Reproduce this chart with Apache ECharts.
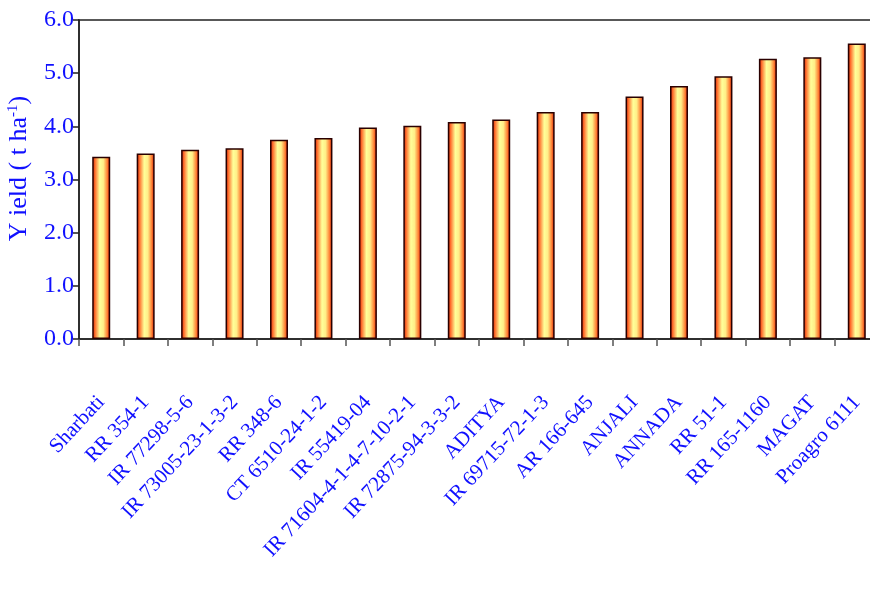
<!DOCTYPE html>
<html>
<head>
<meta charset="utf-8">
<script src="https://cdn.jsdelivr.net/npm/echarts@6/dist/echarts.min.js"></script>
<style>html,body{margin:0;padding:0;background:#fff}#c{width:870px;height:601px}</style>
</head>
<body>
<div id="c"></div>
<script>
const categories = ["Sharbati", "RR 354-1", "IR 77298-5-6", "IR 73005-23-1-3-2", "RR 348-6", "CT 6510-24-1-2", "IR 55419-04", "IR 71604-4-1-4-7-10-2-1", "IR 72875-94-3-3-2", "ADITYA", "IR 69715-72-1-3", "AR 166-645", "ANJALI", "ANNADA", "RR 51-1", "RR 165-1160", "MAGAT", "Proagro 6111"];
const yieldValues = [3.43, 3.49, 3.56, 3.59, 3.75, 3.78, 3.98, 4.01, 4.08, 4.13, 4.27, 4.27, 4.56, 4.76, 4.94, 5.27, 5.30, 5.56];
const yTicks = { min: 0, max: 6, interval: 1 };

const blue = '#1010ff';
const font = '"Liberation Serif", "Times New Roman", serif';
const chart = echarts.init(document.getElementById('c'), null, { renderer: 'canvas' });
chart.setOption({
  animation: false,
  backgroundColor: '#fff',
  grid: { left: 79, top: 20, width: 800, height: 319, outerBoundsMode: 'none', containLabel: false, show: true, borderColor: '#222', borderWidth: 1.5 },
  xAxis: {
    type: 'category',
    data: categories,
    axisLine: { lineStyle: { color: '#222', width: 1.5 } },
    axisTick: { show: true, length: 7, lineStyle: { color: '#555', width: 1.5 } },
    axisLabel: { interval: 0, rotate: 47, margin: 60, fontSize: 21, fontFamily: font, color: blue, hideOverlap: false }
  },
  yAxis: {
    type: 'value',
    min: yTicks.min, max: yTicks.max, interval: yTicks.interval,
    splitLine: { show: false },
    axisLine: { show: true, lineStyle: { color: '#222', width: 1.5 } },
    axisTick: { show: true, length: 6, lineStyle: { color: '#222', width: 1.5 } },
    axisLabel: { fontSize: 24, fontFamily: font, color: blue, margin: 5, formatter: v => v.toFixed(1) },
    name: '{t|Y ield ( t ha}{s|-1}{t|)}',
    nameLocation: 'middle',
    nameRotate: 90,
    nameGap: 46,
    nameTextStyle: {
      padding: [0, 0, 0, 22],
      rich: {
        t: { fontSize: 26, fontFamily: font, color: blue },
        s: { fontSize: 15, fontFamily: font, color: blue, verticalAlign: 'top', padding: [0, 0, 12, 0] }
      }
    }
  },
  series: [{
    type: 'bar',
    data: yieldValues,
    barWidth: 18,
    itemStyle: {
      color: new echarts.graphic.LinearGradient(0, 0, 1, 0, [
        { offset: 0, color: '#b31400' },
        { offset: 0.15, color: '#ff6a2a' },
        { offset: 0.42, color: '#ffff99' },
        { offset: 0.62, color: '#ffee88' },
        { offset: 0.85, color: '#ff7a30' },
        { offset: 1, color: '#b30000' }
      ]),
      borderColor: '#2a0000',
      borderWidth: 1.5
    }
  }]
});
</script>
</body>
</html>
